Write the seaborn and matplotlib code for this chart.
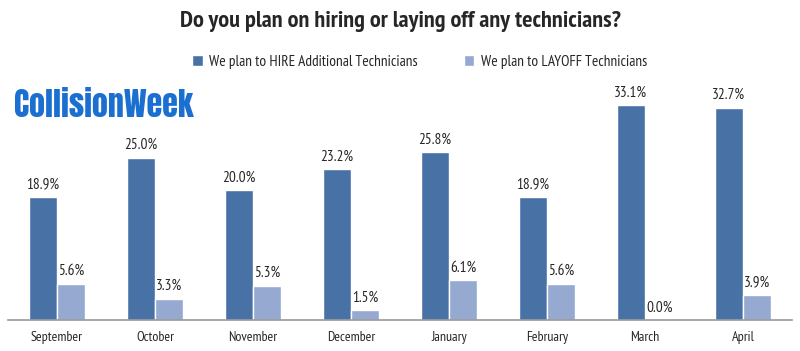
import pandas as pd
import matplotlib.pyplot as plt
import seaborn as sns

months = ["September", "October", "November", "December", "January", "February", "March", "April"]
hire = [18.9, 25.0, 20.0, 23.2, 25.8, 18.9, 33.1, 32.7]
layoff = [5.6, 3.3, 5.3, 1.5, 6.1, 5.6, 0.0, 3.9]
series_names = ["We plan to HIRE Additional Technicians", "We plan to LAYOFF Technicians"]

sns.set_style("white")
plt.rcParams['font.family'] = ['PT Sans Narrow', 'DejaVu Sans']

df = pd.DataFrame({'Mese': months, series_names[0]: hire, series_names[1]: layoff})
df = df.melt('Mese', var_name='serie', value_name='val')

fig = plt.figure(figsize=(8, 3.51), dpi=100)
ax = fig.add_axes([0.01, 0.088, 0.98, 0.698])

sns.barplot(x="Mese", y="val", hue="serie", data=df, ax=ax,
            palette=["#4872a6", "#95a9d1"], width=0.58, saturation=1)

for cont in ax.containers:
    ax.bar_label(cont, labels=[f"{v:.1f}%" for v in cont.datavalues],
                 padding=4, fontsize=11)

ax.set_ylim(0, 37.7)
ax.set_xlabel("")
ax.set_ylabel("")
ax.set_yticks([])
ax.tick_params(axis='x', length=0, labelsize=10, pad=8)
for s in ["top", "right", "left"]:
    ax.spines[s].set_visible(False)
ax.spines["bottom"].set_color("#999999")
ax.spines["bottom"].set_linewidth(1.2)

ax.legend(loc="center", bbox_to_anchor=(0.525, 1.053), ncol=2, frameon=False,
          fontsize=11, handlelength=0.7, handleheight=0.7, columnspacing=3, handletextpad=0.4)

fig.text(0.5, 0.94, "Do you plan on hiring or laying off any technicians?",
         ha="center", va="center", fontsize=17.5, fontweight="bold")
fig.text(0.018, 0.70, "CollisionWeek", ha="left", va="center", fontsize=23,
         color="#1a6fd0", family=["Anton", "DejaVu Sans"])

fig.savefig("out.png", dpi=100)
